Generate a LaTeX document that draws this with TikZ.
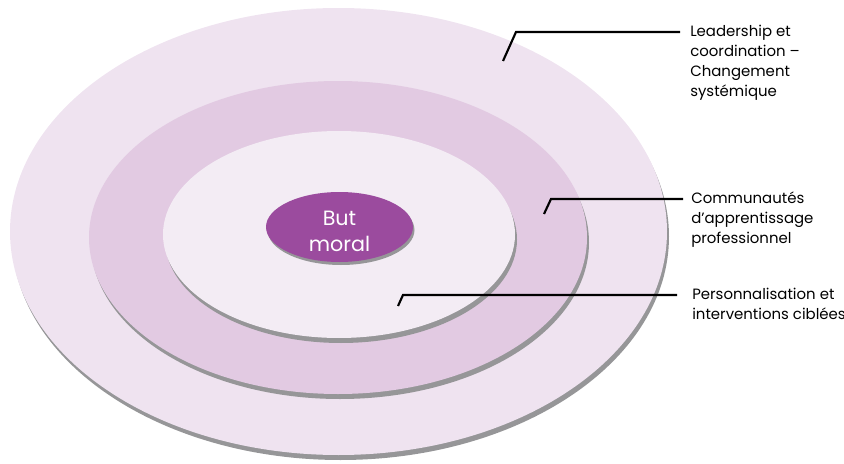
\documentclass[tikz,border=0pt]{standalone}
\usepackage{fontspec}
\setmainfont{Poppins}
\usetikzlibrary{shapes.geometric}
\definecolor{outerc}{RGB}{239,227,240}
\definecolor{midc}{RGB}{226,202,226}
\definecolor{innerc}{RGB}{243,236,244}
\definecolor{corec}{RGB}{155,75,158}
\definecolor{shadc}{RGB}{150,150,152}
\tikzset{
  ring/.style={fill=#1, draw=none},
  shade/.style={fill=shadc, draw=none},
  leader/.style={draw=black, line width=1.6pt},
  lbl/.style={anchor=north west, align=left, inner sep=0pt, font=\fontsize{11.2}{15}\selectfont},
}
\begin{document}
\begin{tikzpicture}[x=0.75pt,y=-0.75pt]
\useasboundingbox (0,0) rectangle (844,464);
% outer
\fill[shade] (340.5,236.5) ellipse [x radius=328.5, y radius=223.5];
\fill[ring=outerc] (338.5,231.5) ellipse [x radius=328.5, y radius=223.5];
% middle
\fill[shade] (340,242.5) ellipse [x radius=249, y radius=156.5];
\fill[ring=midc] (338,237.5) ellipse [x radius=249, y radius=156.5];
% inner
\fill[shade] (341,239.5) ellipse [x radius=176, y radius=103.5];
\fill[ring=innerc] (339,234.5) ellipse [x radius=176, y radius=103.5];
% core
\fill[shade] (341,230) ellipse [x radius=73.5, y radius=35];
\node (core) [ellipse, fill=corec, minimum width=110.25pt, minimum height=52.5pt, inner sep=0pt, text=white, align=center, font=\fontsize{15.5}{19.5}\selectfont] at (339.5,227) {};
\node (coretext) [inner sep=0pt, text=white, align=center, font=\fontsize{15.5}{19.5}\selectfont] at (339.5,231) {But\\moral};
% leaders
\coordinate (a1) at (503,61);
\coordinate (k1) at (516,32);
\coordinate (e1) at (680,32);
\node (t1) [lbl] at (690,25) {Leadership et\\coordination –\\Changement\\systémique};
\draw[leader] (a1) -- (k1) -- (e1);
\coordinate (a2) at (544,214);
\coordinate (k2) at (551,199);
\coordinate (e2) at (683,199);
\node (t2) [lbl] at (691,192) {Communautés\\d’apprentissage\\professionnel};
\draw[leader] (a2) -- (k2) -- (e2);
\coordinate (a3) at (398,306);
\coordinate (k3) at (403,295);
\coordinate (e3) at (677,295);
\node (t3) [lbl] at (692,288) {Personnalisation et\\interventions ciblées};
\draw[leader] (a3) -- (k3) -- (e3);
\end{tikzpicture}
\end{document}
